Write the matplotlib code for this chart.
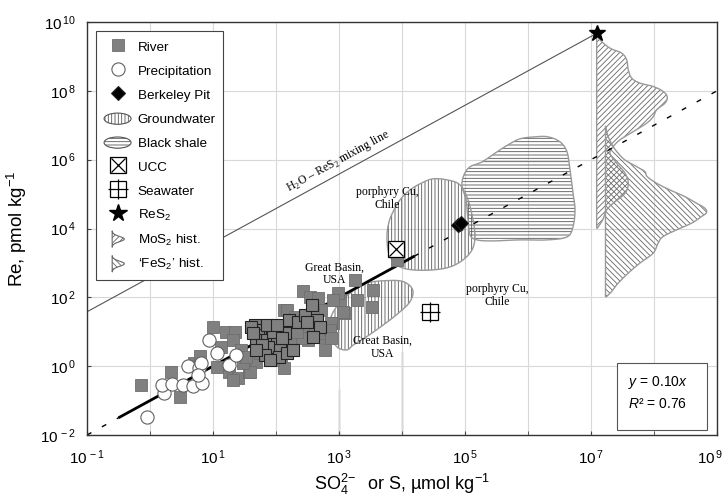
import numpy as np
import matplotlib
matplotlib.use('Agg')
import matplotlib.pyplot as plt
import matplotlib.patches as mpatches
import matplotlib.transforms as mtransforms
from matplotlib.lines import Line2D
from matplotlib.legend_handler import HandlerPatch, HandlerTuple
from matplotlib.ticker import FixedLocator, NullFormatter

plt.rcParams['font.family'] = ['Liberation Sans', 'DejaVu Sans']
plt.rcParams['mathtext.fontset'] = 'custom'
plt.rcParams['mathtext.rm'] = 'Liberation Sans'
plt.rcParams['mathtext.it'] = 'Liberation Sans:italic'
plt.rcParams['mathtext.bf'] = 'Liberation Sans:bold'
plt.rcParams['hatch.linewidth'] = 0.6

# ---------------- data (log10 units) ----------------
river_logx = [-0.14, 0.48, 0.33, 1.005, 1.21, 1.35, 1.31, 1.13, 1.44, 1.07, 1.26, 1.39, 1.57, 1.50,
              1.68, 1.63, 1.79, 1.735, 1.87, 1.95, 2.03, 2.08, 2.12, 2.12, 1.96, 1.75, 1.59, 1.32,
              1.48, 1.53, 2.25, 2.43, 2.54, 2.67, 2.78, 2.91, 3.02, 3.10, 3.25, 3.54, 3.28, 3.52,
              2.99, 2.91, 3.07, 2.88, 2.49, 2.59, 2.49, 2.78, 3.92, 2.57, 2.17, 2.30, 2.72, 2.59,
              2.38, 2.51, 2.62, 2.75, 2.86, 2.88, 2.41, 2.33, 0.70, 0.80]
river_logy = [-0.55, -0.89, -0.16, 1.15, 1.00, 1.00, 0.76, 0.57, 0.47, -0.02, -0.16, -0.35, -0.16, 0.13,
              0.13, 1.15, 1.00, 0.665, 0.47, 0.76, 1.15, 0.18, 1.63, -0.06, 0.18, 0.375, -0.16, -0.40,
              0.08, 0.28, 0.71, 2.17, 2.02, 1.97, 0.47, 1.25, 1.92, 1.54, 2.50, 2.20, 1.92, 1.73,
              2.12, 1.92, 1.58, 1.25, 1.44, 1.15, 0.86, 0.86, 3.09, 1.73, 1.63, 1.44, 1.63, 1.58,
              1.05, 0.76, 1.10, 0.96, 1.05, 0.81, 0.81, 1.00, 0.10, 0.30]
river_dark_logx = [1.667, 1.80, 1.93, 2.06, 2.20, 1.61, 1.72, 1.69, 1.85, 2.01, 1.88, 2.06, 2.14, 1.64,
                   1.77, 1.83, 1.96, 2.04, 2.09, 2.17, 1.85, 1.69, 1.90, 2.01, 2.35, 2.46, 2.57, 2.65,
                   2.70, 2.59, 2.49, 2.27]
river_dark_logy = [1.20, 1.05, 0.86, 1.15, 1.34, 1.15, 0.90, 0.76, 0.76, 0.67, 0.57, 0.47, 0.96, 0.96,
                   0.62, 0.33, 1.00, 0.28, 0.81, 0.38, 1.20, 0.47, 0.18, 1.20, 1.29, 1.49, 1.78, 1.34,
                   1.15, 0.86, 1.29, 0.47]
precip_logx = [-0.05, 0.23, 0.19, 0.35, 0.52, 0.68, 0.83, 0.60, 0.78, 0.81, 0.94, 1.06, 1.26, 1.37, 0.76]
precip_logy = [-1.49, -0.79, -0.55, -0.52, -0.55, -0.58, -0.48, 0.00, -0.06, 0.08, 0.76, 0.375, 0.03, 0.33, -0.26]
berkeley_logx = [4.89, 4.93]
berkeley_logy = [4.10, 4.16]
ucc_logx, ucc_logy = [3.90], [3.41]
seawater_logx, seawater_logy = [4.44], [1.57]
res2_logx, res2_logy = [7.09], [9.68]

fit_slope = 0.10
fit_r2 = 0.76
fit_solid_logx = [-0.5, 4.2]
mixing_ratio = 380.0

gw_chile_logx = [3.762, 3.778, 3.841, 3.968, 4.175, 4.492, 4.762, 4.968, 5.111, 5.159, 5.127, 5.048,
                 4.921, 4.714, 4.492, 4.317, 4.127, 3.968, 3.857, 3.794]
gw_chile_logy = [3.814, 3.378, 3.087, 2.884, 2.797, 2.797, 2.884, 3.087, 3.378, 3.756, 4.250, 4.831,
                 5.267, 5.413, 5.442, 5.326, 5.122, 4.831, 4.483, 4.192]
gw_basin_logx = [3.440, 3.757, 4.021, 4.170, 4.127, 3.941, 3.703, 3.440, 3.227, 3.122, 2.963, 2.857,
                 2.857, 2.963, 3.175]
gw_basin_logy = [2.410, 2.486, 2.456, 2.215, 1.875, 1.538, 1.198, 0.858, 0.616, 0.471, 0.567, 0.956,
                 1.343, 1.730, 2.119]
shale_logx = [4.952, 4.984, 5.079, 5.270, 5.508, 5.683, 5.873, 6.111, 6.317, 6.508, 6.619, 6.667,
              6.714, 6.746, 6.714, 6.619, 6.302, 5.873, 5.444, 5.190, 5.079, 5.048, 5.016]
shale_logy = [5.238, 5.558, 5.791, 5.936, 6.227, 6.430, 6.605, 6.663, 6.663, 6.517, 6.227, 5.703,
              5.035, 4.541, 4.047, 3.756, 3.669, 3.669, 3.640, 3.669, 3.814, 4.250, 4.831]

mos2_base_logx = 7.09
mos2_logy = [9.677, 9.483, 9.241, 9.096, 8.901, 8.610, 8.369, 8.224, 8.125, 7.980, 7.817, 7.642, 7.448,
             7.253, 7.061, 6.817, 6.576, 6.381, 6.189, 5.898, 5.608, 5.317, 5.026, 4.736, 4.541, 4.250, 4.009]
mos2_width = [0.0, 0.052, 0.211, 0.397, 0.476, 0.502, 0.556, 0.687, 0.899, 1.057, 1.121, 1.084, 0.952,
              0.899, 0.794, 0.582, 0.370, 0.264, 0.211, 0.317, 0.450, 0.502, 0.450, 0.264, 0.159, 0.095, 0.010]
fes2_base_logx = 7.23
fes2_logy = [6.983, 6.672, 6.381, 6.189, 5.994, 5.800, 5.654, 5.509, 5.317, 5.122, 4.927, 4.736, 4.590,
             4.462, 4.346, 4.154, 3.959, 3.765, 3.573, 3.282, 2.991, 2.701, 2.410, 2.166, 2.020]
fes2_width = [0.0, 0.042, 0.122, 0.201, 0.307, 0.492, 0.624, 0.661, 0.810, 1.021, 1.259, 1.444, 1.577,
              1.603, 1.524, 1.365, 1.127, 0.914, 0.835, 0.756, 0.544, 0.359, 0.200, 0.095, 0.016]

labels_text = ['porphyry Cu,\nChile', 'porphyry Cu,\nChile', 'Great Basin,\nUSA', 'Great Basin,\nUSA']
labels_logx = [3.767, 5.508, 2.921, 3.687]
labels_logy = [4.860, 2.049, 2.680, 0.549]

xtick_exp = list(range(-1, 10, 2))
ytick_exp = list(range(-2, 11, 2))


# ---------------- helpers ----------------
def smooth_closed(px, py, n=12):
    p = np.column_stack([px, py])
    m = len(p)
    out = []
    for i in range(m):
        p0, p1, p2, p3 = p[(i - 1) % m], p[i], p[(i + 1) % m], p[(i + 2) % m]
        for t in np.linspace(0, 1, n, endpoint=False):
            t2, t3 = t * t, t * t * t
            out.append(0.5 * ((2 * p1) + (-p0 + p2) * t + (2 * p0 - 5 * p1 + 4 * p2 - p3) * t2
                              + (-p0 + 3 * p1 - 3 * p2 + p3) * t3))
    return np.array(out)


def smooth_open(px, py, n=8):
    p = np.column_stack([px, py])
    p = np.vstack([p[0], p, p[-1]])
    out = []
    for i in range(1, len(p) - 2):
        p0, p1, p2, p3 = p[i - 1], p[i], p[i + 1], p[i + 2]
        for t in np.linspace(0, 1, n, endpoint=False):
            t2, t3 = t * t, t * t * t
            out.append(0.5 * ((2 * p1) + (-p0 + p2) * t + (2 * p0 - 5 * p1 + 4 * p2 - p3) * t2
                              + (-p0 + 3 * p1 - 3 * p2 + p3) * t3))
    out.append(p[-2])
    return np.array(out)


def draw_region(ax, lx, ly, hatch, hatch_color, edge_color):
    pts = smooth_closed(lx, ly)
    xy = 10.0 ** pts
    ax.add_patch(mpatches.Polygon(xy, closed=True, facecolor='none', edgecolor=hatch_color,
                                  hatch=hatch, lw=0, zorder=1.5))
    ax.add_patch(mpatches.Polygon(xy, closed=True, facecolor='none', edgecolor=edge_color,
                                  lw=1.0, zorder=1.6))


def draw_hist(ax, base, ly, w, hatch, hatch_color, edge_color):
    prof = smooth_open(np.array(w), np.array(ly))
    xs = np.concatenate([[base], base + prof[:, 0], [base]])
    ys = np.concatenate([[ly[0]], prof[:, 1], [ly[-1]]])
    xy = np.column_stack([10.0 ** xs, 10.0 ** ys])
    ax.add_patch(mpatches.Polygon(xy, closed=True, facecolor='none', edgecolor=hatch_color,
                                  hatch=hatch, lw=0, zorder=1.5))
    ax.add_patch(mpatches.Polygon(xy, closed=True, facecolor='none', edgecolor=edge_color,
                                  lw=1.0, zorder=1.6))


# ---------------- figure ----------------
fig = plt.figure(figsize=(7.26, 4.96), dpi=100)
ax = fig.add_axes([87 / 726, 1 - 435 / 496, 630 / 726, 413 / 496])
ax.set_xscale('log')
ax.set_yscale('log')
ax.set_xlim(10.0 ** -1, 10.0 ** 9)
ax.set_ylim(10.0 ** -2, 10.0 ** 10)

ax.set_xticks([10.0 ** e for e in xtick_exp])
ax.set_xticklabels([r'$\mathregular{10^{\,%d}}$' % e for e in xtick_exp])
ax.xaxis.set_minor_locator(FixedLocator([10.0 ** e for e in range(-1, 10)]))
ax.xaxis.set_minor_formatter(NullFormatter())
ax.set_yticks([10.0 ** e for e in ytick_exp])
ax.set_yticklabels([r'$\mathregular{10^{\,%d}}$' % e for e in ytick_exp])
ax.yaxis.set_minor_locator(FixedLocator([]))
ax.tick_params(which='both', direction='in', length=3, color='#444', labelsize=11)
ax.tick_params(axis='x', pad=10)
ax.tick_params(axis='y', pad=8)
ax.grid(which='both', axis='x', color='#d8d8d8', lw=0.8, zorder=0)
ax.grid(which='major', axis='y', color='#d8d8d8', lw=0.8, zorder=0)
ax.set_axisbelow(True)
for s in ax.spines.values():
    s.set_color('#333333')
    s.set_linewidth(1.0)

# keep the last x tick label inside the figure
last_lbl = ax.get_xticklabels()[-1]
last_lbl.set_transform(last_lbl.get_transform()
                       + mtransforms.ScaledTranslation(-7 / 100, 0, fig.dpi_scale_trans))

# darker gridline stubs near bottom
ax.axvline(1e3, ymax=0.11, color='#666666', lw=0.9, zorder=0.5)
ax.axvline(1e4, ymax=0.20, color='#666666', lw=0.9, zorder=0.5)

# regions
draw_region(ax, gw_chile_logx, gw_chile_logy, '|||||', '#555555', '#999999')
draw_region(ax, gw_basin_logx, gw_basin_logy, '|||||', '#555555', '#999999')
draw_region(ax, shale_logx, shale_logy, '-----', '#555555', '#999999')

# histograms
draw_hist(ax, mos2_base_logx, mos2_logy, mos2_width, '//////', '#666666', '#999999')
draw_hist(ax, fes2_base_logx, fes2_logy, fes2_width, '\\\\\\\\\\\\', '#666666', '#999999')

# fit line
xfit = np.array([10.0 ** -1, 10.0 ** 9])
ax.plot(xfit, fit_slope * xfit, color='k', lw=1.0, dashes=(3.6, 8.6), zorder=2)
xs_solid = 10.0 ** np.array(fit_solid_logx)
ax.plot(xs_solid, fit_slope * xs_solid, color='k', lw=2.0, zorder=2.1, solid_capstyle='butt')

# mixing line
xmix = np.array([10.0 ** -1, 10.0 ** res2_logx[0]])
ax.plot(xmix, mixing_ratio * xmix, color='#555555', lw=0.8, zorder=2)

# points
river_kw = dict(ls='none', marker='s', ms=8, mfc='#808080', mec='#6e6e6e', mew=0.6)
ax.plot(10.0 ** np.array(river_logx), 10.0 ** np.array(river_logy), zorder=3, **river_kw)
ax.plot(10.0 ** np.array(river_dark_logx), 10.0 ** np.array(river_dark_logy), ls='none', marker='s',
        ms=8, mfc='#808080', mec='#222222', mew=0.8, zorder=3.1)
precip_kw = dict(ls='none', marker='o', ms=9.5, mfc='white', mec='#606060', mew=0.8)
ax.plot(10.0 ** np.array(precip_logx), 10.0 ** np.array(precip_logy), zorder=3.2, **precip_kw)
berk_kw = dict(ls='none', marker='D', ms=7.5, mfc='black', mec='#222222', mew=0.8)
ax.plot(10.0 ** np.array(berkeley_logx), 10.0 ** np.array(berkeley_logy), zorder=3.3, **berk_kw)
box_kw = dict(ls='none', marker='s', ms=11, mfc='white', mec='black', mew=0.9)
x_kw = dict(ls='none', marker='x', ms=10, mec='black', mew=0.9)
p_kw = dict(ls='none', marker='+', ms=14, mec='black', mew=0.9)
ax.plot(10.0 ** np.array(ucc_logx), 10.0 ** np.array(ucc_logy), zorder=3.4, **box_kw)
ax.plot(10.0 ** np.array(ucc_logx), 10.0 ** np.array(ucc_logy), zorder=3.5, **x_kw)
ax.plot(10.0 ** np.array(seawater_logx), 10.0 ** np.array(seawater_logy), zorder=3.4, **box_kw)
ax.plot(10.0 ** np.array(seawater_logx), 10.0 ** np.array(seawater_logy), zorder=3.5, **p_kw)
star_kw = dict(ls='none', marker='*', ms=12, mfc='black', mec='black')
ax.plot(10.0 ** np.array(res2_logx), 10.0 ** np.array(res2_logy), zorder=3.6, clip_on=False, **star_kw)

# region labels
for t, lx, ly in zip(labels_text, labels_logx, labels_logy):
    ax.text(10.0 ** lx, 10.0 ** ly, t, family='Liberation Serif', fontsize=8.5, ha='center',
            va='center', linespacing=1.1, zorder=4)

# mixing line label (rotated along line)
lx0 = 2.984
p1 = ax.transData.transform((10.0 ** 0, mixing_ratio * 1.0))
p2 = ax.transData.transform((10.0 ** 6, mixing_ratio * 1e6))
ang = np.degrees(np.arctan2(p2[1] - p1[1], p2[0] - p1[0]))
ax.text(10.0 ** lx0, mixing_ratio * 10.0 ** lx0 * 10.0 ** 0.40,
        r'H$_{\mathregular{2}}$O – ReS$_{\mathregular{2}}$ mixing line', family='Liberation Serif',
        fontsize=8.5, rotation=ang, rotation_mode='anchor', ha='center', va='center', zorder=4)

# regression box
ax.add_patch(mpatches.Rectangle((0.841, 0.012), 0.143, 0.162, transform=ax.transAxes,
                                facecolor='white', edgecolor='#555555', lw=0.8, zorder=5))
ax.text(0.859, 0.126, r'$y$ = %.2f$x$' % fit_slope, transform=ax.transAxes, fontsize=10,
        va='center', ha='left', zorder=6)
ax.text(0.859, 0.075, r'$R$² = %.2f' % fit_r2, transform=ax.transAxes, fontsize=10,
        va='center', ha='left', zorder=6)

# axis labels
ax.set_xlabel(r'SO$_4^{2\!-}$  or S, µmol kg$^{-1}$', fontsize=13, labelpad=3)
ax.set_ylabel(r'Re, pmol kg$^{-1}$', fontsize=13.5, labelpad=8)


# ---------------- legend ----------------
def ellipse_patch(legend, orig_handle, xdescent, ydescent, width, height, fontsize):
    return mpatches.Ellipse(xy=(width / 2 - xdescent, height / 2 - ydescent), width=width,
                            height=height * 0.72)


def bell_patch(legend, orig_handle, xdescent, ydescent, width, height, fontsize):
    x0 = -xdescent + width * 0.3
    yc = -ydescent + height / 2
    h = height * 1.05
    t = np.linspace(-1, 1, 40)
    xs = x0 + width * 0.45 * np.exp(-(t / 0.45) ** 2)
    verts = [(x0, yc - h / 2)] + list(zip(xs, yc + t * h / 2)) + [(x0, yc + h / 2)]
    return mpatches.Polygon(verts, closed=True)


h_river = Line2D([], [], **river_kw)
h_precip = Line2D([], [], **precip_kw)
h_berk = Line2D([], [], **berk_kw)
h_gw = mpatches.Patch(facecolor='white', edgecolor='#555555', hatch='|||||', lw=0.8)
h_shale = mpatches.Patch(facecolor='white', edgecolor='#555555', hatch='-----', lw=0.8)
h_ucc = (Line2D([], [], **box_kw), Line2D([], [], **x_kw))
h_sea = (Line2D([], [], **box_kw), Line2D([], [], **p_kw))
h_star = Line2D([], [], ls='none', marker='*', ms=13, mfc='black', mec='black')
h_mos2 = mpatches.Patch(facecolor='white', edgecolor='#666666', hatch='//////', lw=0.8)
h_fes2 = mpatches.Patch(facecolor='white', edgecolor='#666666', hatch='\\\\\\\\\\\\', lw=0.8)

handles = [h_river, h_precip, h_berk, h_gw, h_shale, h_ucc, h_sea, h_star, h_mos2, h_fes2]
labels = ['River', 'Precipitation', 'Berkeley Pit', 'Groundwater', 'Black shale', 'UCC',
          'Seawater', r'ReS$_2$', r'MoS$_2$ hist.', r'‘FeS$_2$’ hist.']
leg = ax.legend(handles, labels, loc='upper left', bbox_to_anchor=(0.0143, 0.0, 0.2016, 0.978),
                mode='expand', borderaxespad=0, fontsize=9.7, frameon=True, fancybox=False,
                edgecolor='#444444', framealpha=1, handlelength=2.0, handleheight=1.4,
                handletextpad=0.5, labelspacing=0.62, borderpad=0.6,
                handler_map={h_gw: HandlerPatch(patch_func=ellipse_patch),
                             h_shale: HandlerPatch(patch_func=ellipse_patch),
                             h_mos2: HandlerPatch(patch_func=bell_patch),
                             h_fes2: HandlerPatch(patch_func=bell_patch),
                             tuple: HandlerTuple(ndivide=1)})
leg.get_frame().set_linewidth(0.8)
leg.set_zorder(6)

fig.savefig('out.png', dpi=100)
